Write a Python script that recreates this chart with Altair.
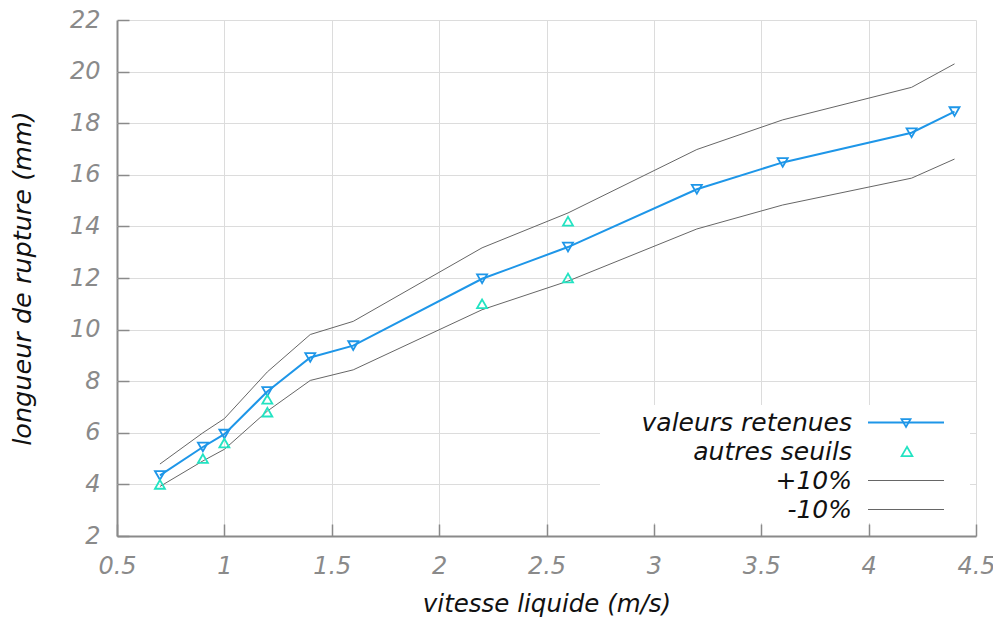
import altair as alt
import pandas as pd

# ---- data ----
vitesse = [0.7, 0.9, 1.0, 1.2, 1.4, 1.6, 2.2, 2.6, 3.2, 3.6, 4.2, 4.4]
valeurs_retenues = [4.35, 5.45, 5.95, 7.6, 8.92, 9.38, 11.97, 13.2, 15.44, 16.48, 17.63, 18.45]
plus_10 = [4.79, 6.0, 6.55, 8.36, 9.81, 10.32, 13.17, 14.52, 16.98, 18.13, 19.39, 20.3]
moins_10 = [3.92, 4.91, 5.36, 6.84, 8.03, 8.44, 10.77, 11.88, 13.9, 14.83, 15.87, 16.61]

autres_x = [0.7, 0.9, 1.0, 1.2, 1.2, 2.2, 2.6, 2.6]
autres_y = [4.0, 5.0, 5.6, 7.3, 6.8, 11.0, 14.2, 12.0]

x_ticks = [0.5, 1, 1.5, 2, 2.5, 3, 3.5, 4, 4.5]
y_ticks = [2, 4, 6, 8, 10, 12, 14, 16, 18, 20, 22]

series_names = ["valeurs retenues", "autres seuils", "+10%", "-10%"]
legend_texts = ["valeurs retenues", "autres seuils\u00a0", "+10%", "-10%"]
series_colors = ["#1E96E8", "#22E3C2", "#666666", "#666666"]

rows = []
for name, ys in [("valeurs retenues", valeurs_retenues), ("+10%", plus_10), ("-10%", moins_10)]:
    for x, y in zip(vitesse, ys):
        rows.append({"x": x, "y": y, "serie": name})
for x, y in zip(autres_x, autres_y):
    rows.append({"x": x, "y": y, "serie": "autres seuils"})
df = pd.DataFrame(rows)

legend_df = pd.DataFrame({"serie": series_names, "texte": legend_texts})

FONT = "DejaVu Sans"
AXIS_GRAY = "#8a8a8a"
GRID = "#dcdcdc"

x_axis = alt.Axis(
    values=x_ticks, format="~g", title="vitesse liquide (m/s)",
    offset=-12, tickSize=12, tickColor=AXIS_GRAY, tickWidth=1.5, domain=False,
    labelPadding=18, labelFont=FONT, labelFontSize=24, labelFontStyle="italic",
    labelColor=AXIS_GRAY, labelFlush=False, labelOverlap=False,
    titleFont=FONT, titleFontSize=24.5, titleFontStyle="italic", titleFontWeight="normal",
    titleColor="#111111", titlePadding=14.6, minExtent=54, maxExtent=54,
    grid=True,
    gridColor={"condition": {"test": "datum.value === 0.5", "value": AXIS_GRAY}, "value": GRID},
    gridWidth={"condition": {"test": "datum.value === 0.5", "value": 2}, "value": 1},
)
y_axis = alt.Axis(
    values=y_ticks, format="~g", title="longueur de rupture (mm)", orient="left",
    offset=-12, tickSize=12, tickColor=AXIS_GRAY, tickWidth=1.5, domain=False,
    labelPadding=17, labelFont=FONT, labelFontSize=24, labelFontStyle="italic",
    labelColor=AXIS_GRAY, labelFlush=False, labelOverlap=False,
    titleFont=FONT, titleFontSize=25.5, titleFontStyle="italic", titleFontWeight="normal",
    titleColor="#111111", titlePadding=33.6, minExtent=60, maxExtent=60,
    grid=True,
    gridColor={"condition": {"test": "datum.value === 2", "value": AXIS_GRAY}, "value": GRID},
    gridWidth={"condition": {"test": "datum.value === 2", "value": 2}, "value": 1},
)

color = alt.Color("serie:N", scale=alt.Scale(domain=series_names, range=series_colors), legend=None)

base = alt.Chart(df).encode(
    x=alt.X("x:Q", scale=alt.Scale(domain=[0.5, 4.5], nice=False, zero=False), axis=x_axis),
    y=alt.Y("y:Q", scale=alt.Scale(domain=[2, 22], nice=False, zero=False), axis=y_axis),
    color=color,
)

gray_lines = base.mark_line(strokeWidth=1).transform_filter(
    "datum.serie === '+10%' || datum.serie === '-10%'")
blue_line = base.mark_line(strokeWidth=2).transform_filter("datum.serie === 'valeurs retenues'")
blue_pts = base.mark_point(shape="triangle-down", filled=False, size=100, strokeWidth=1.8,
                           opacity=1).transform_filter("datum.serie === 'valeurs retenues'")
cyan_pts = base.mark_point(shape="triangle-up", filled=False, size=100, strokeWidth=1.8,
                           opacity=1).transform_filter("datum.serie === 'autres seuils'")

main = alt.layer(gray_lines, blue_line, blue_pts, cyan_pts)

# ---- legend (key box at the lower right of the plot, labels left of the keys) ----
row_y = alt.Y("serie:N", scale=alt.Scale(type="point", domain=series_names,
                                           range=[402.5, 489.5], padding=0), axis=None)

leg_base = alt.Chart(legend_df)
leg_box = leg_base.mark_rect(fill="white", stroke=None).encode(
    x=alt.value(483), x2=alt.value(853), y=alt.value(385), y2=alt.value(503)
).transform_filter("datum.serie === 'valeurs retenues'")
leg_text = leg_base.mark_text(
    align="right", baseline="middle", font=FONT, fontSize=25, fontStyle="italic", color="#111111"
).encode(x=alt.value(735), y=row_y, text="texte:N")
leg_rule_blue = leg_base.mark_rule(strokeWidth=2).encode(
    x=alt.value(751), x2=alt.value(827), y=row_y, color=color
).transform_filter("datum.serie === 'valeurs retenues'")
leg_rule_gray = leg_base.mark_rule(strokeWidth=1).encode(
    x=alt.value(751), x2=alt.value(827), y=row_y, color=color
).transform_filter("datum.serie === '+10%' || datum.serie === '-10%'")
leg_pt_down = leg_base.mark_point(shape="triangle-down", filled=False, size=81, strokeWidth=1.8,
                                  opacity=1, yOffset=0.5).encode(
    x=alt.value(789), y=row_y, color=color
).transform_filter("datum.serie === 'valeurs retenues'")
leg_pt_up = leg_base.mark_point(shape="triangle-up", filled=False, size=115, strokeWidth=1.8,
                                opacity=1).encode(
    x=alt.value(790), y=row_y, color=color
).transform_filter("datum.serie === 'autres seuils'")

legend_layer = alt.layer(leg_box, leg_rule_gray, leg_rule_blue, leg_pt_down, leg_pt_up, leg_text)

chart = alt.layer(main, legend_layer).resolve_scale(y="independent").properties(
    width=859, height=516,
    autosize=alt.AutoSizeParams(type="none"),
    padding={"left": 109, "top": 12, "right": 17, "bottom": 84},
).configure_view(stroke=None)

chart.save("out.html", embed_options={"renderer": "svg", "actions": False})
